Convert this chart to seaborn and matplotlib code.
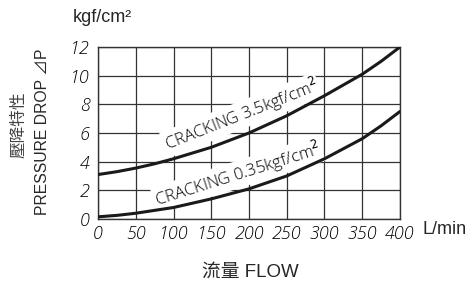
import matplotlib
matplotlib.use("Agg")
import matplotlib.pyplot as plt
import seaborn as sns
import pandas as pd

# flow (L/min) vs pressure drop (kgf/cm2)
flow = [0, 25, 50, 75, 100, 125, 150, 175, 200, 225, 250, 275, 300, 325, 350, 375, 400]
drop_35 = [3.1, 3.3, 3.55, 3.85, 4.2, 4.6, 5.0, 5.5, 6.0, 6.6, 7.2, 7.9, 8.6, 9.35, 10.1, 11.0, 12.0]
drop_035 = [0.15, 0.25, 0.4, 0.6, 0.8, 1.1, 1.4, 1.75, 2.1, 2.55, 3.0, 3.6, 4.2, 4.9, 5.6, 6.5, 7.5]
x_ticks = [0, 50, 100, 150, 200, 250, 300, 350, 400]
y_ticks = [0, 2, 4, 6, 8, 10, 12]

df = pd.concat([
    pd.DataFrame({"flow": flow, "drop": drop_35, "curve": "3.5"}),
    pd.DataFrame({"flow": flow, "drop": drop_035, "curve": "0.35"}),
])

sns.set_style("white")
plt.rcParams["font.family"] = ["Liberation Sans", "Noto Sans CJK TC", "DejaVu Sans"]

fig = plt.figure(figsize=(4.74, 2.84), dpi=100)
ax = fig.add_axes([0.2068, 0.229, 0.637, 0.6055])

sns.lineplot(data=df, x="flow", y="drop", units="curve", estimator=None,
             color="#1a1a1a", linewidth=2.2, ax=ax, zorder=5)

ax.set_xlim(0, 400)
ax.set_ylim(0, 12)
ax.set_xticks(x_ticks)
ax.set_yticks(y_ticks)
ax.grid(True, color="#333333", linewidth=0.9)
for s in ax.spines.values():
    s.set_color("#333333")
    s.set_linewidth(1.0)
ax.tick_params(axis="y", length=0, pad=6)
ax.tick_params(axis="x", length=0, pad=4)
tick_font = dict(family="Open Sans", style="italic", weight="light", size=13, color="black")
ax.set_xticklabels([str(v) for v in x_ticks], fontdict=tick_font)
ax.set_yticklabels([str(v) for v in y_ticks], fontdict=tick_font)
ax.set_xlabel("")
ax.set_ylabel("")

lab_font = dict(family="Open Sans", weight="light", size=12, color="black")
ax.text(190, 7.25, "CRACKING 3.5kgf/cm$^2$", rotation=21.5, ha="center", va="center",
        zorder=4, bbox=dict(facecolor="white", edgecolor="none", pad=1), **lab_font)
ax.text(185, 3.1, "CRACKING 0.35kgf/cm$^2$", rotation=17.5, ha="center", va="center",
        zorder=4, bbox=dict(facecolor="white", edgecolor="none", pad=1), **lab_font)

fig.text(73 / 474, 1 - 17 / 284, "kgf/cm²", fontsize=13, va="center", ha="left")
fig.text(422 / 474, 1 - 230 / 284, "L/min", fontsize=13, va="center", ha="left")
fig.text(250 / 474, 1 - 272 / 284, "流量 FLOW", fontsize=13.5, va="center", ha="center")
fig.text(42 / 474, 1 - 132 / 284, "PRESSURE DROP ⊿P", fontsize=11.3, rotation=90,
         va="center", ha="center")
fig.text(19 / 474, 1 - 125 / 284, "壓降特性", fontsize=12, rotation=90,
         va="center", ha="center", color="#444444")

fig.savefig("out.png", dpi=100)
